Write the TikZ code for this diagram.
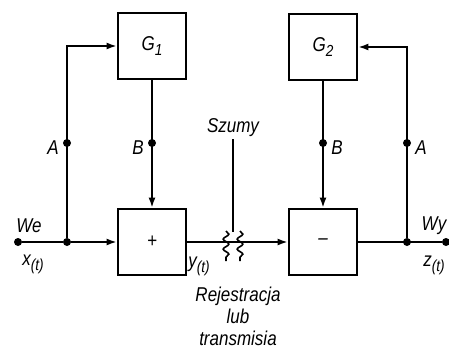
\documentclass[tikz,border=0pt]{standalone}
\usepackage{fontspec}
\setmainfont{Liberation Sans}[FakeStretch=0.85]
\usetikzlibrary{arrows.meta,decorations.pathmorphing}

\newcommand{\ind}[1]{\raisebox{-0.45ex}{\footnotesize #1}}

\begin{document}
\begin{tikzpicture}[x=0.5pt,y=-0.5pt,
    blok/.style={draw,line width=1.4pt,minimum width=34pt,minimum height=33pt,inner sep=0pt,font=\itshape},
    linia/.style={line width=0.8pt},
    strz/.style={linia,-{Latex[length=5pt,width=3.5pt]}},
    kropka/.style={circle,fill,inner sep=0pt,minimum size=4pt},
    opis/.style={font=\itshape,inner sep=1pt},
    szum/.style={linia,decorate,decoration={snake,amplitude=1.4pt,segment length=5pt}}]

    \useasboundingbox (0,0) rectangle (449,348);

    % bloki
    \node[blok] (g1) at (152,46) {G\ind{1}};
    \node[blok] (g2) at (323,47) {G\ind{2}};
    \node[blok] (sum) at (152,242) {+};
    \node[blok] (roz) at (323,242) {--};

    % wezly
    \node[kropka] (we) at (18,242) {};
    \node[kropka] (w1) at (67,242) {};
    \node[kropka] (w2) at (407,242) {};
    \node[kropka] (wy) at (446,242) {};
    \node[kropka] (a1) at (67,143) {};
    \node[kropka] (b1) at (152,143) {};
    \node[kropka] (b2) at (323,143) {};
    \node[kropka] (a2) at (407,143) {};

    % tor lewy
    \draw[linia] (we) -- (w1);
    \draw[strz] (w1) -- (sum.west);
    \draw[strz] (w1) |- (g1.west);
    \draw[strz] (g1.south) -- (sum.north);

    % tor prawy
    \draw[strz] (sum.east) -- (roz.west);
    \draw[linia] (roz.east) -- (wy);
    \draw[strz] (w2) |- (g2.east);
    \draw[strz] (g2.south) -- (roz.north);

    % szumy
    \node[opis] (szumy) at (233,128) {Szumy};
    \coordinate (szum) at (233,232);
    \draw[linia] (szumy.south) -- (szum);
    \draw[szum] (226,231) -- (226,261);
    \draw[szum] (240,231) -- (240,261);

    % opisy
    \node[opis,left=3pt,yshift=-2.5pt] (la1) at (a1) {A};
    \node[opis,left=3pt,yshift=-2.5pt] (lb1) at (b1) {B};
    \node[opis,right=3pt,yshift=-2.5pt] (lb2) at (b2) {B};
    \node[opis,right=3pt,yshift=-2.5pt] (la2) at (a2) {A};
    \node[opis] (lwe) at (29,226) {We};
    \node[opis] (lx) at (33,264) {x\ind{(t)}};
    \node[opis] (ly) at (199,266) {y\ind{(t)}};
    \node[opis] (lwy) at (434,226) {Wy};
    \node[opis] (lz) at (434,265) {z\ind{(t)}};
    \node[opis,align=center] (rej) at (238,316) {Rejestracja\\[-1pt]lub\\[-1pt]transmisia};

\end{tikzpicture}
\end{document}
